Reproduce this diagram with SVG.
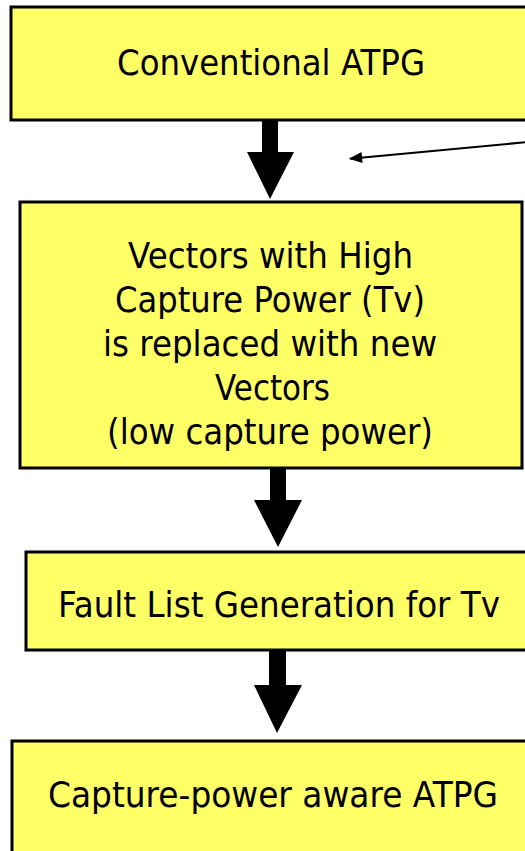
<svg xmlns="http://www.w3.org/2000/svg" width="525" height="851" viewBox="0 0 525 851">
  <style>
    .box { fill: #FFFF66; stroke: #000; stroke-width: 3; }
    .label { font-family: "DejaVu Sans", Verdana, sans-serif; font-size: 35px; fill: #000; text-anchor: middle; }
    .flow { fill: #000; stroke: none; }
    .pointer { stroke: #000; stroke-width: 2; fill: none; }
  </style>
  <defs>
    <marker id="tip" viewBox="0 0 12 10" refX="11" refY="5" markerWidth="7" markerHeight="5.5" markerUnits="strokeWidth" orient="auto">
      <path d="M0,0 L12,5 L0,10 z" fill="#000"/>
    </marker>
  </defs>
  <rect width="525" height="851" fill="#fff"/>

  <g id="connectors">
    <polygon class="flow" points="262,120 278,120 278,152 294,152 270,199 247,152 262,152"/>
    <polygon class="flow" points="270,469 286,469 286,500 302,500 278,547 254,500 270,500"/>
    <polygon class="flow" points="269,651 286,651 286,685 302,685 277,733 254,685 269,685"/>
    <line class="pointer" x1="528" y1="142" x2="350" y2="158.7" marker-end="url(#tip)"/>
  </g>

  <g id="conventional-atpg">
    <rect class="box" x="11" y="7" width="516" height="113"/>
    <text class="label" x="271" y="75" textLength="308" lengthAdjust="spacingAndGlyphs">Conventional ATPG</text>
  </g>

  <g id="replace-vectors">
    <rect class="box" x="20" y="202" width="502" height="266"/>
    <text class="label" x="270.5" y="268" textLength="285" lengthAdjust="spacingAndGlyphs">Vectors with High</text>
    <text class="label" x="270" y="312" textLength="310" lengthAdjust="spacingAndGlyphs">Capture Power (Tv)</text>
    <text class="label" x="270" y="356" textLength="334" lengthAdjust="spacingAndGlyphs">is replaced with new</text>
    <text class="label" x="272.5" y="400" textLength="115" lengthAdjust="spacingAndGlyphs">Vectors</text>
    <text class="label" x="270" y="444" textLength="326" lengthAdjust="spacingAndGlyphs">(low capture power)</text>
  </g>

  <g id="fault-list">
    <rect class="box" x="26" y="552" width="501" height="98"/>
    <text class="label" x="279" y="617" textLength="442" lengthAdjust="spacingAndGlyphs">Fault List Generation for Tv</text>
  </g>

  <g id="capture-power-atpg">
    <rect class="box" x="12" y="741" width="515" height="112"/>
    <text class="label" x="273" y="807" textLength="450" lengthAdjust="spacingAndGlyphs">Capture-power aware ATPG</text>
  </g>
</svg>
